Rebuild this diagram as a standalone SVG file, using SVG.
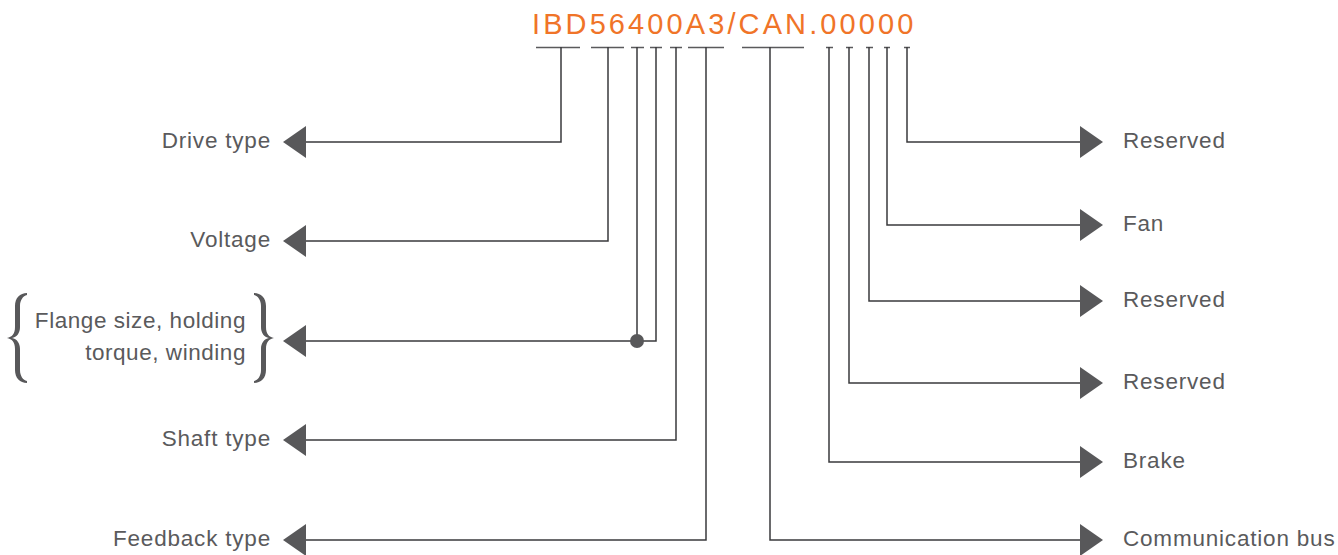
<svg xmlns="http://www.w3.org/2000/svg" width="1338" height="555" viewBox="0 0 1338 555">
<style>
.lbl{font-family:"Liberation Sans",Arial,sans-serif;font-size:22.5px;fill:#5a5a5c;letter-spacing:0.8px}
.l{text-anchor:end}
.fl{letter-spacing:0.55px}
.ln{fill:none;stroke:#3a3a3c;stroke-width:1.5}
.tk{fill:none;stroke:#5a5a5c;stroke-width:1.5}
.ah{fill:#58585a}
.title{font-family:"Liberation Sans",Arial,sans-serif;font-size:29px;fill:#f07428;letter-spacing:3.1px}
</style>
<defs>
<path id="brace" d="M27,293 C20,293 15,298 15,306 L15,327 C15,334 12,337 7,338 C12,339 15,342 15,349 L15,370 C15,378 20,383 27,383 L27,381 C23,380 20,376 20,370 L20,349 C20,343 17,339 12,338 C17,337 20,333 20,327 L20,306 C20,300 23,296 27,295 Z"/>
</defs>
<rect width="1338" height="555" fill="#ffffff"/>
<text class="title" x="532" y="34">IBD56400A3/CAN.00000</text>
<g id="connectors">
<path class="tk" d="M536,47.5H580 M591,47.5H624 M631,47.5H644 M650,47.5H662 M670,47.5H682 M688,47.5H724 M742,47.5H804 M826,47.5H833 M846,47.5H853 M866,47.5H873 M884,47.5H890 M904,47.5H910"/>
<path class="ln" d="M561,47V142H305"/>
<path class="ln" d="M608,47V241H305"/>
<path class="ln" d="M637,47V341H305"/>
<path class="ln" d="M656,47V341H637"/>
<path class="ln" d="M676,47V440H305"/>
<path class="ln" d="M706,47V540H305"/>
<path class="ln" d="M770,47V540H1082"/>
<path class="ln" d="M829,47V462H1082"/>
<path class="ln" d="M849,47V383H1082"/>
<path class="ln" d="M869,47V301H1082"/>
<path class="ln" d="M887,47V225H1082"/>
<path class="ln" d="M907,47V142H1082"/>
<circle class="ah" cx="637" cy="341" r="7"/>
</g>
<g id="n-drive"><path class="ah" d="M306,126L283,142L306,158Z"/><text class="lbl l" x="271" y="147.5">Drive type</text></g>
<g id="n-voltage"><path class="ah" d="M306,225L283,241L306,257Z"/><text class="lbl l" x="271" y="246.5">Voltage</text></g>
<g id="n-flange"><path class="ah" d="M306,325L283,341L306,357Z"/>
<use href="#brace" class="ah"/><use href="#brace" class="ah" transform="translate(281,0) scale(-1,1)"/>
<text class="lbl l fl" x="246" y="328">Flange size, holding</text><text class="lbl l fl" x="246" y="360">torque, winding</text></g>
<g id="n-shaft"><path class="ah" d="M306,424L283,440L306,456Z"/><text class="lbl l" x="271" y="445.5">Shaft type</text></g>
<g id="n-feedback"><path class="ah" d="M306,524L283,540L306,556Z"/><text class="lbl l" x="271" y="545.5">Feedback type</text></g>
<g id="n-res1"><path class="ah" d="M1080,126L1103,142L1080,158Z"/><text class="lbl" x="1123" y="147.5">Reserved</text></g>
<g id="n-fan"><path class="ah" d="M1080,209L1103,225L1080,241Z"/><text class="lbl" x="1123" y="230.5">Fan</text></g>
<g id="n-res2"><path class="ah" d="M1080,285L1103,301L1080,317Z"/><text class="lbl" x="1123" y="306.5">Reserved</text></g>
<g id="n-res3"><path class="ah" d="M1080,367L1103,383L1080,399Z"/><text class="lbl" x="1123" y="388.5">Reserved</text></g>
<g id="n-brake"><path class="ah" d="M1080,446L1103,462L1080,478Z"/><text class="lbl" x="1123" y="467.5">Brake</text></g>
<g id="n-bus"><path class="ah" d="M1080,524L1103,540L1080,556Z"/><text class="lbl" x="1123" y="545.5">Communication bus</text></g>
</svg>
